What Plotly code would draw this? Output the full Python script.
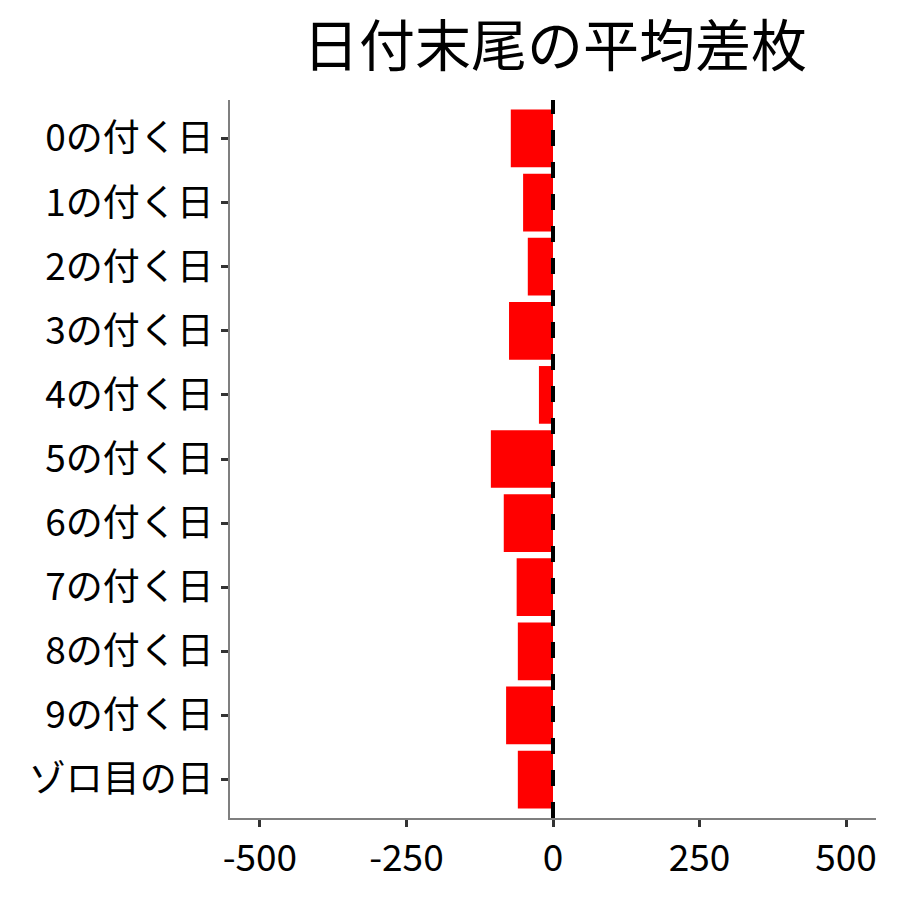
import plotly.graph_objects as go

categories = ["0の付く日", "1の付く日", "2の付く日", "3の付く日", "4の付く日",
              "5の付く日", "6の付く日", "7の付く日", "8の付く日", "9の付く日", "ゾロ目の日"]
values = [-72, -51, -43, -75, -24, -106, -84, -62, -60, -80, -60]
x_ticks = [-500, -250, 0, 250, 500]
x_tick_labels = ["-500", "-250", "0", "250", "500"]

FONT = "Noto Sans CJK JP"

fig = go.Figure()
fig.add_trace(go.Bar(
    y=categories, x=values, orientation="h",
    marker=dict(color="#FF0000", line=dict(width=0)),
    showlegend=False,
))
fig.add_shape(type="line", xref="x", yref="paper", x0=0, x1=0, y0=0, y1=1,
              line=dict(color="black", width=4, dash="16px,16px"))

fig.update_layout(
    width=900, height=900,
    paper_bgcolor="white", plot_bgcolor="white",
    margin=dict(l=222, r=32, t=92, b=90),
    bargap=0.1,
    title=dict(text="日付末尾の平均差枚", x=547/900, xanchor="center",
               y=1 - 38/900, yanchor="middle",
               font=dict(family=FONT, size=56, color="black")),
    font=dict(family=FONT, color="black"),
)
fig.update_xaxes(
    range=[-551, 551], tickvals=x_ticks, ticktext=x_tick_labels,
    showgrid=False, zeroline=False,
    showline=True, linecolor="#7f7f7f", linewidth=1.5,
    ticks="outside", ticklen=7, tickwidth=2.5, tickcolor="#333333",
    tickfont=dict(family=FONT, size=37, color="black"),
)
fig.update_yaxes(
    range=[10.6, -0.6], showgrid=False, zeroline=False,
    showline=True, linecolor="#7f7f7f", linewidth=1.5,
    ticks="outside", ticklen=7, tickwidth=2.5, tickcolor="#333333",
    tickfont=dict(family=FONT, size=37, color="black"),
)

fig.write_html("out.html")
